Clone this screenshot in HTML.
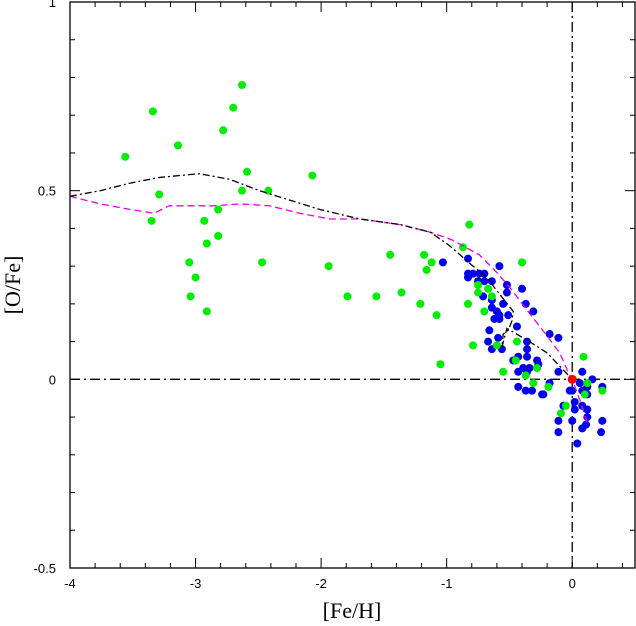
<!DOCTYPE html>
<html><head><meta charset="utf-8"><style>
html,body{margin:0;padding:0;background:#fff;}
svg{display:block;font-family:"Liberation Sans",sans-serif;}
</style></head><body>
<svg id="chart" width="636" height="626">
<g id="grid"></g>
</svg>
<script>
const xTicks=[-4,-3,-2,-1,0];
const xTickLabels=["-4","-3","-2","-1","0"];
const yTicks=[-0.5,0,0.5,1];
const yTickLabels=["-0.5","0","0.5","1"];
const greenX=[-3.56,-3.34,-3.14,-3.29,-3.35,-2.63,-2.70,-2.78,-2.59,-2.63,-2.42,-2.82,-2.93,-2.82,-2.91,-3.05,-3.00,-3.04,-2.91,-2.47,-2.07,-1.94,-1.79,-1.56,-1.45,-1.36,-1.21,-1.18,-1.16,-1.12,-1.08,-1.05,-0.87,-0.82,-0.40,-0.75,-0.67,-0.75,-0.64,-0.83,-0.70,-0.79,-0.60,-0.44,-0.45,-0.55,-0.28,-0.37,-0.31,-0.19,0.09,0.12,0.10,0.24,-0.05,-0.09];
const greenY=[0.59,0.71,0.62,0.49,0.42,0.78,0.72,0.66,0.55,0.50,0.50,0.45,0.42,0.38,0.36,0.31,0.27,0.22,0.18,0.31,0.54,0.30,0.22,0.22,0.33,0.23,0.20,0.33,0.29,0.31,0.17,0.04,0.35,0.41,0.31,0.25,0.24,0.23,0.22,0.20,0.18,0.09,0.09,0.10,0.05,0.02,0.03,0.01,-0.01,-0.02,0.06,-0.01,-0.04,-0.03,-0.07,-0.09];
const blueX=[-1.03,-0.83,-0.58,-0.83,-0.79,-0.74,-0.70,-0.83,-0.75,-0.70,-0.64,-0.52,-0.40,-0.52,-0.71,-0.64,-0.55,-0.37,-0.64,-0.60,-0.31,-0.58,-0.51,-0.62,-0.58,-0.44,-0.66,-0.59,-0.67,-0.36,-0.64,-0.56,-0.36,-0.18,-0.11,-0.43,-0.36,-0.28,-0.27,-0.47,-0.39,-0.34,-0.43,-0.36,-0.11,0.08,0.06,0.16,0.12,-0.43,-0.18,-0.37,-0.32,-0.24,-0.23,-0.02,0.00,0.08,0.12,0.24,-0.07,0.02,0.08,0.12,0.02,0.12,-0.11,0.00,0.24,0.08,-0.11,0.23,0.04,0.11];
const blueY=[0.31,0.32,0.30,0.28,0.28,0.28,0.28,0.27,0.26,0.26,0.26,0.25,0.24,0.23,0.22,0.21,0.20,0.20,0.19,0.18,0.18,0.17,0.17,0.16,0.16,0.14,0.13,0.11,0.10,0.10,0.08,0.08,0.08,0.12,0.11,0.06,0.06,0.05,0.04,0.05,0.03,0.03,0.02,0.02,0.02,0.02,-0.01,0.00,-0.02,-0.02,-0.01,-0.03,-0.03,-0.04,-0.04,-0.03,-0.03,-0.03,-0.04,-0.02,-0.07,-0.06,-0.07,-0.08,-0.08,-0.10,-0.11,-0.11,-0.11,-0.13,-0.14,-0.14,-0.17,-0.12];
const modelAX=[-4.0,-3.76,-3.52,-3.29,-2.97,-2.73,-2.49,-2.25,-2.01,-1.69,-1.37,-1.13,-0.98,-0.79,-0.68,-0.60,-0.47,-0.48,-0.51,-0.55,-0.56,-0.52,-0.34,-0.20,-0.10,0];
const modelAY=[0.485,0.50,0.52,0.535,0.545,0.53,0.50,0.475,0.45,0.425,0.41,0.39,0.355,0.30,0.27,0.235,0.18,0.155,0.13,0.12,0.085,0.135,0.10,0.07,0.035,0];
const modelBX=[-4,-3.76,-3.52,-3.33,-3.21,-3.05,-2.85,-2.65,-2.41,-2.17,-1.93,-1.69,-1.37,-1.13,-0.96,-0.74,-0.62,-0.50,-0.34,-0.20,-0.10,-0.04,0,0.06,0.12];
const modelBY=[0.485,0.465,0.45,0.44,0.46,0.46,0.46,0.465,0.46,0.44,0.425,0.425,0.41,0.39,0.37,0.33,0.29,0.245,0.175,0.115,0.07,0.025,0,-0.055,-0.115];
const sunX=[0], sunY=[0];

const L=70,R=635,T=2,B=568,XMIN=-4,XMAX=0.5,YMIN=-0.5,YMAX=1;
const sx=v=>L+(v-XMIN)*(R-L)/(XMAX-XMIN);
const sy=v=>B-(v-YMIN)*(B-T)/(YMAX-YMIN);
const NS="http://www.w3.org/2000/svg";
const svg=document.getElementById('chart');
function mk(tag,attrs,parent){const e=document.createElementNS(NS,tag);for(const k in attrs)e.setAttribute(k,attrs[k]);(parent||svg).appendChild(e);return e;}

// frame
const frame=mk('rect',{x:L,y:T,width:R-L,height:B-T,fill:'none',stroke:'#000','stroke-width':1.3});



// minor + major ticks
for(let v=-4;v<=0.5001;v+=0.2){const X=sx(v);const major=Math.abs(v-Math.round(v))<1e-6;const len=major?10:5;
 const t1=mk('line',{x1:X,y1:B,x2:X,y2:B-len,stroke:'#000'});
 
 
 const t2=mk('line',{x1:X,y1:T,x2:X,y2:T+len,stroke:'#000'});
 
 }
for(let v=-0.5;v<=1.0001;v+=0.1){const Y=sy(v);const major=Math.abs(v*2-Math.round(v*2))<1e-6;const len=major?10:5;
 const t1=mk('line',{x1:L,y1:Y,x2:L+len,y2:Y,stroke:'#000'});
 
 
 const t2=mk('line',{x1:R,y1:Y,x2:R-len,y2:Y,stroke:'#000'});
 
 }
xTicks.forEach((v,i)=>{const t=mk('text',{x:sx(v),y:588,'text-anchor':'middle','font-size':13});t.textContent=xTickLabels[i];
 
 });
yTicks.forEach((v,i)=>{const t=mk('text',{x:56,y:sy(v)+5,'text-anchor':'end','font-size':13});t.textContent=yTickLabels[i];
 
 });

// reference lines
const h=mk('line',{x1:L,y1:sy(0),x2:R,y2:sy(0),stroke:'#000','stroke-width':1.3,'stroke-dasharray':'10,4,2,4'});


const vl=mk('line',{x1:sx(0),y1:T,x2:sx(0),y2:B,stroke:'#000','stroke-width':1.3,'stroke-dasharray':'10,4,2,4'});



// points
function dots(xs,ys,color,name){xs.forEach((x,i)=>{const c=mk('circle',{cx:sx(x),cy:sy(ys[i]),r:4,fill:color});
 
 });}
dots(blueX,blueY,'#0000ee','blue-star-point');
dots(greenX,greenY,'#00ee00','green-star-point');

function line(xs,ys,color,dash,name){const d=xs.map((x,i)=>(i?'L':'M')+sx(x).toFixed(1)+','+sy(ys[i]).toFixed(1)).join('');
 const p=mk('path',{d:d,fill:'none',stroke:color,'stroke-width':1.3,'stroke-dasharray':dash});
 
 }
line(modelBX,modelBY,'#ee00ee','7,4','model-magenta-dashed');
line(modelAX,modelAY,'#000','7,3,2,3','model-black-dashdot');

sunX.forEach((x,i)=>{const c=mk('circle',{cx:sx(x),cy:sy(sunY[i]),r:4.5,fill:'#ff0000'});
 
 });

const xt=mk('text',{x:352,y:618,'text-anchor':'middle','font-size':22,'font-family':'Liberation Serif, serif'});xt.textContent='[Fe/H]';


const yt=mk('text',{x:0,y:0,'text-anchor':'middle','font-size':22,'font-family':'Liberation Serif, serif',transform:'translate(20,285) rotate(-90)'});yt.textContent='[O/Fe]';


</script>
</body></html>
